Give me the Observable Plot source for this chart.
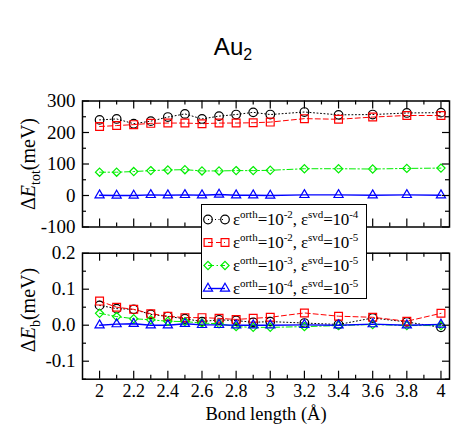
<!DOCTYPE html>
<html>
<head>
<meta charset="utf-8">
<script src="https://cdn.jsdelivr.net/npm/d3@7"></script>
<script src="https://cdn.jsdelivr.net/npm/@observablehq/plot@0.6"></script>
<style>
  body { margin: 0; background: white; }
  #wrap { position: relative; width: 456px; height: 426px; overflow: hidden; background: white; }
  #wrap > .abs { position: absolute; }
  .title { font-family: "Liberation Sans", Arial, sans-serif; font-size: 24px; line-height: 24px; white-space: nowrap; transform: translateX(-50%); }
  .title sub { font-size: 16px; vertical-align: -5px; line-height: 0; }
  .ylab { font-family: "Liberation Serif", serif; font-size: 20px; line-height: 20px; white-space: nowrap; transform: translate(-50%, -50%) rotate(-90deg); }
  .ylab sub { font-size: 14px; vertical-align: -5px; line-height: 0; }
  .legend { background: white; border: 1px solid #000; box-sizing: border-box; padding-top: 3px; z-index: 10;
            font-family: "Liberation Serif", serif; font-size: 17px; }
  .legend .row { display: flex; align-items: center; height: 23px; white-space: nowrap; }
  .legend .row span { white-space: nowrap; flex: none; line-height: 23px; letter-spacing: -0.2px; }
  .legend svg { display: block; flex: none; }
  .legend sup { font-size: 11px; vertical-align: 7px; line-height: 0; letter-spacing: 0; }
</style>
</head>
<body>
<div id="wrap"></div>
<script>
// ---------------- data ----------------
const bond = [2.0, 2.1, 2.2, 2.3, 2.4, 2.5, 2.6, 2.7, 2.8, 2.9, 3.0, 3.2, 3.4, 3.6, 3.8, 4.0];

// Delta E_tot (meV)
const totA = [240, 243, 228, 236, 249, 259, 243, 252, 257, 264, 257, 265, 256, 257, 262, 263]; // orth 1e-2, svd 1e-4
const totB = [219, 222, 225, 229, 230, 230, 228, 230, 230, 231, 233, 244, 242, 249, 254, 254]; // orth 1e-2, svd 1e-5
const totC = [74, 74, 76, 79, 81, 82, 78, 78, 79, 79, 80, 85, 85, 84, 86, 87];                 // orth 1e-3, svd 1e-5
const totD = [1, 0, 0, 2, 1, 2, 1, 3, 1, 1, 0, 2, 2, 1, 2, 1];                                  // orth 1e-4, svd 1e-5

// Delta E_b (meV)
const bA = [0.055, 0.046, 0.044, 0.030, 0.024, 0.018, 0.010, 0.015, 0.013, 0.008, 0.010, 0.006, 0.002, 0.020, 0.009, -0.006];
const bB = [0.067, 0.050, 0.044, 0.032, 0.025, 0.021, 0.021, 0.019, 0.016, 0.019, 0.022, 0.034, 0.025, 0.022, 0.011, 0.033];
const bC = [0.033, 0.024, 0.018, 0.015, 0.011, 0.010, 0.006, 0.004, -0.004, -0.006, -0.006, -0.004, -0.001, 0.002, -0.001, -0.001];
const bD = [0.000, 0.003, 0.004, 0.000, 0.000, 0.004, 0.001, 0.001, 0.000, 0.000, 0.000, 0.001, 0.000, 0.003, 0.000, 0.002];

const seriesNames = ["A", "B", "C", "D"];
const legendOrth = ["-2", "-2", "-3", "-4"];
const legendSvd = ["-4", "-5", "-5", "-5"];

const xMajor = [2, 2.2, 2.4, 2.6, 2.8, 3, 3.2, 3.4, 3.6, 3.8, 4];
const xMinor = [2.1, 2.3, 2.5, 2.7, 2.9, 3.1, 3.3, 3.5, 3.7, 3.9];
const topMajor = [300, 200, 100, 0, -100];
const topMinor = [250, 150, 50, -50];
const botMajor = [0.2, 0.1, 0.0, -0.1];
const botMinor = [0.15, 0.05, -0.05, -0.15];

// ---------------- styles ----------------
const styles = {
  A: {stroke: "#000000", dash: "1,2.5", symbol: "circle", r: 4.3, sw: 1},
  B: {stroke: "#ff0000", dash: "5,3", symbol: "square", r: 4.4, sw: 1},
  C: {stroke: "#00ee00", dash: "6,2.5,1.5,2.5", symbol: "diamond2", r: 3.7, sw: 1},
  D: {stroke: "#0000ff", dash: null, symbol: "triangle", r: 3.4, sw: 1.4}
};

function rows(ys) {
  return bond.map((x, i) => ({x, y: ys[i]}));
}

const W = 456, ML = 82, MR = 7;
const PW = W - ML - MR;
const FH = 126;

function panel({yDomain, data, major, minor, fmt, height, mt, mb, xLabels}) {
  const marks = [];
  seriesNames.forEach((k, i) => {
    const s = styles[k];
    marks.push(Plot.line(rows(data[i]), {x: "x", y: "y", stroke: s.stroke, strokeWidth: s.sw,
      strokeDasharray: s.dash || undefined}));
  });
  seriesNames.forEach((k, i) => {
    const s = styles[k];
    marks.push(Plot.dot(rows(data[i]), {x: "x", y: "y", symbol: s.symbol, r: s.r, stroke: s.stroke,
      fill: "none", strokeWidth: 1.2}));
  });
  marks.push(
    Plot.tickY(major, {y: d => d, insetRight: PW - 7, stroke: "#000", strokeWidth: 1.2}),
    Plot.tickY(minor, {y: d => d, insetRight: PW - 4, stroke: "#000", strokeWidth: 1.2}),
    Plot.tickY(major, {y: d => d, insetLeft: PW - 7, stroke: "#000", strokeWidth: 1.2}),
    Plot.tickY(minor, {y: d => d, insetLeft: PW - 4, stroke: "#000", strokeWidth: 1.2}),
    Plot.tickX(xMajor, {x: d => d, insetTop: FH - 8, stroke: "#000", strokeWidth: 1.2}),
    Plot.tickX(xMinor, {x: d => d, insetTop: FH - 4, stroke: "#000", strokeWidth: 1.2}),
    Plot.tickX(xMajor, {x: d => d, insetBottom: FH - 8, stroke: "#000", strokeWidth: 1.2}),
    Plot.tickX(xMinor, {x: d => d, insetBottom: FH - 4, stroke: "#000", strokeWidth: 1.2}),
    Plot.frame({stroke: "#000", strokeWidth: 1.5}),
    Plot.axisY(major, {tickSize: 0, tickPadding: 7, tickFormat: fmt, fontSize: 19, fill: "#000", label: null})
  );
  if (xLabels) {
    marks.push(
      Plot.axisX(xMajor, {tickSize: 0, tickPadding: 5, tickFormat: d => String(d), fontSize: 18, fill: "#000", label: null}),
      Plot.text(["Bond length (Å)"], {frameAnchor: "bottom", dy: 35, fontSize: 18.5, fill: "#000", lineAnchor: "middle"})
    );
  }
  return Plot.plot({
    width: W, height,
    marginLeft: ML, marginRight: MR, marginTop: mt, marginBottom: mb,
    x: {domain: [1.9, 4.05], axis: xLabels ? undefined : null},
    y: {domain: yDomain},
    style: {fontFamily: "Liberation Serif, serif", fontSize: "19px", background: "transparent", overflow: "visible", color: "#000"},
    marks
  });
}

const wrap = document.getElementById("wrap");

function place(el, left, topPx, cls) {
  el.classList.add("abs");
  if (cls) el.classList.add(cls);
  el.style.left = left + "px";
  el.style.top = topPx + "px";
  wrap.appendChild(el);
  return el;
}

const titleEl = document.createElement("div");
titleEl.innerHTML = "Au<sub>2</sub>";
place(titleEl, 233, 35, "title");

const topPanel = panel({yDomain: [-100, 300], data: [totA, totB, totC, totD], major: topMajor, minor: topMinor,
  fmt: d => String(d), height: 160, mt: 20.5, mb: 13.5, xLabels: false});
place(topPanel, 0, 80);

const botPanel = panel({yDomain: [-0.15, 0.2], data: [bA, bB, bC, bD], major: botMajor, minor: botMinor,
  fmt: d => d.toFixed(1), height: 186, mt: 12.7, mb: 47.3, xLabels: true});
place(botPanel, 0, 240);

const yl1 = document.createElement("div");
yl1.innerHTML = "Δ<i>E</i><sub>tot</sub>(meV)";
place(yl1, 28, 164, "ylab");
const yl2 = document.createElement("div");
yl2.innerHTML = "Δ<i>E</i><sub>b</sub>(meV)";
place(yl2, 28, 310, "ylab");

const legend = document.createElement("div");
legend.style.width = "166px";
legend.style.height = "95px";
seriesNames.forEach((k, i) => {
  const s = styles[k];
  const row = document.createElement("div");
  row.className = "row";
  const svg = d3.create("svg").attr("width", 31).attr("height", 23);
  svg.append("line").attr("x1", 6).attr("x2", 23).attr("y1", 11.5).attr("y2", 11.5)
    .attr("stroke", s.stroke).attr("stroke-width", s.sw).attr("stroke-dasharray", s.dash);
  const sym = {circle: d3.symbolCircle, square: d3.symbolSquare, diamond2: d3.symbolDiamond2, triangle: d3.symbolTriangle}[s.symbol];
  [6, 23].forEach(cx => {
    svg.append("path").attr("d", d3.symbol(sym, s.r * s.r * Math.PI)())
      .attr("transform", `translate(${cx},11.5)`).attr("fill", "none").attr("stroke", s.stroke).attr("stroke-width", 1.2);
  });
  row.appendChild(svg.node());
  const txt = document.createElement("span");
  txt.innerHTML = `ε<sup>orth</sup>=10<sup>${legendOrth[i]}</sup>, ε<sup>svd</sup>=10<sup>${legendSvd[i]}</sup>`;
  row.appendChild(txt);
  legend.appendChild(row);
});
place(legend, 201, 204, "legend");
</script>
</body>
</html>
